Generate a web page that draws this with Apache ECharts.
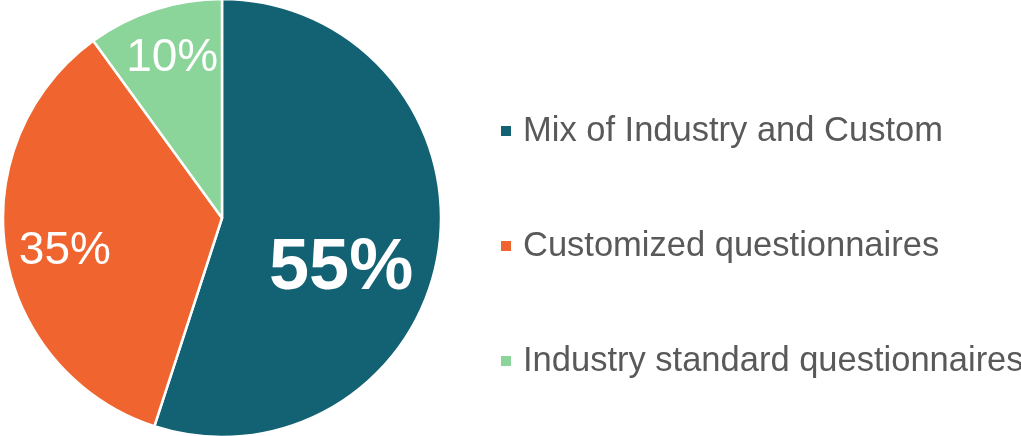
<!DOCTYPE html>
<html><head><meta charset="utf-8">
<script src="https://cdn.jsdelivr.net/npm/echarts@6/dist/echarts.min.js"></script>
<style>html,body{margin:0;padding:0;background:#fff}#c{width:1021px;height:436px}</style>
</head><body><div id="c"></div>
<script>
const categories = ['Mix of Industry and Custom', 'Customized questionnaires', 'Industry standard questionnaires'];
const values = [55, 35, 10];
const colors = ['#136274', '#F0652F', '#8BD59B'];
const labelStyles = [
  {fontSize: 72, fontWeight: 'bold', offset: [8, 34]},
  {fontSize: 46, fontWeight: 'normal', offset: [-46, 16]},
  {fontSize: 46, fontWeight: 'normal', offset: [-15, -53]}
];
const chart = echarts.init(document.getElementById('c'));
chart.setOption({
  animation: false,
  textStyle: {fontFamily: 'Liberation Sans, Arial, sans-serif'},
  legend: {
    orient: 'vertical', left: 494, top: 106, itemGap: 75,
    icon: 'rect', itemWidth: 12, itemHeight: 12,
    textStyle: {fontSize: 34.5, color: '#595959', padding: [0, 0, 0, 6], lineHeight: 40, fontFamily: 'Liberation Sans, Arial, sans-serif'},
    data: categories
  },
  series: [{
    type: 'pie', center: [222, 218], radius: 219, startAngle: 90, clockwise: true,
    itemStyle: {borderColor: '#fff', borderWidth: 2.5},
    labelLine: {show: false},
    data: categories.map((n, i) => ({
      name: n, value: values[i],
      itemStyle: {color: colors[i]},
      label: {show: true, position: 'inside', formatter: '{c}%', color: '#fff',
        fontSize: labelStyles[i].fontSize, fontWeight: labelStyles[i].fontWeight,
        offset: labelStyles[i].offset, fontFamily: 'Liberation Sans, Arial, sans-serif'}
    }))
  }]
});
</script></body></html>
